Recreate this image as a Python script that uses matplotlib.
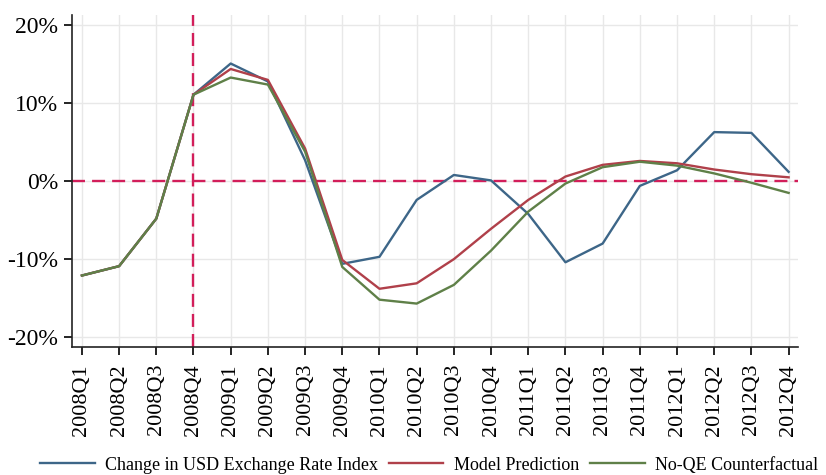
import numpy as np
import matplotlib
matplotlib.use('Agg')
import matplotlib.pyplot as plt
from matplotlib.ticker import FuncFormatter

quarters = ['2008Q1', '2008Q2', '2008Q3', '2008Q4',
            '2009Q1', '2009Q2', '2009Q3', '2009Q4',
            '2010Q1', '2010Q2', '2010Q3', '2010Q4',
            '2011Q1', '2011Q2', '2011Q3', '2011Q4',
            '2012Q1', '2012Q2', '2012Q3', '2012Q4']

# quarterly % change
usd_index = [-12.1, -10.9, -4.8, 11.1, 15.1, 12.8, 2.7, -10.6, -9.7, -2.4,
             0.8, 0.1, -4.2, -10.4, -8.0, -0.6, 1.4, 6.3, 6.2, 1.2]
model_pred = [-12.1, -10.9, -4.8, 11.1, 14.4, 13.0, 4.2, -10.1, -13.8, -13.1,
              -10.0, -6.1, -2.4, 0.6, 2.1, 2.6, 2.3, 1.5, 0.9, 0.5]
no_qe = [-12.1, -10.9, -4.8, 11.1, 13.3, 12.4, 3.8, -11.0, -15.2, -15.7,
         -13.3, -8.9, -3.9, -0.3, 1.8, 2.5, 2.0, 1.0, -0.2, -1.5]

y_ticks = [-20, -10, 0, 10, 20]
qe_start = '2008Q4'

plt.rcParams['font.family'] = ['Liberation Serif', 'DejaVu Serif']

fig = plt.figure(figsize=(8.26, 4.75), dpi=100)
ax = fig.add_axes([0.087, 0.269, 0.879, 0.699])

x = np.arange(len(quarters))
ax.plot(x, usd_index, color='#3d6688', lw=1.7, label='Change in USD Exchange Rate Index', zorder=3)
ax.plot(x, model_pred, color='#b0404a', lw=1.7, label='Model Prediction', zorder=3)
ax.plot(x, no_qe, color='#5f8048', lw=1.7, label='No-QE Counterfactual', zorder=3)

ax.axhline(0, color='#d21e5a', lw=1.7, ls=(0, (5.5, 3)), zorder=2)
ax.axvline(quarters.index(qe_start), color='#d21e5a', lw=1.7, ls=(0, (5.5, 3)), zorder=2)

ax.set_xlim(-0.27, len(quarters) - 0.75)
ax.set_ylim(-21.3, 21.3)
ax.set_xticks(x)
ax.set_xticklabels(quarters, rotation=90, fontsize=16)
ax.set_yticks(y_ticks)
ax.yaxis.set_major_formatter(FuncFormatter(lambda v, p: f'{v:.0f}%'))
ax.tick_params(axis='y', labelsize=17, length=6, width=1.2, direction='out', pad=4)
ax.tick_params(axis='x', length=6, width=1.2, direction='out', pad=6)

ax.grid(True, color='#e8e8e8', lw=1.0, zorder=0)
ax.set_axisbelow(True)
for side in ['top', 'right']:
    ax.spines[side].set_visible(False)
for side in ['left', 'bottom']:
    ax.spines[side].set_linewidth(1.2)
    ax.spines[side].set_color('#222222')

fig.legend(loc='center', bbox_to_anchor=(0.52, 0.021), ncol=3, frameon=False,
           fontsize=13, handlelength=3.0, columnspacing=0.6, handletextpad=0.6)

fig.savefig('out.png', dpi=100)
